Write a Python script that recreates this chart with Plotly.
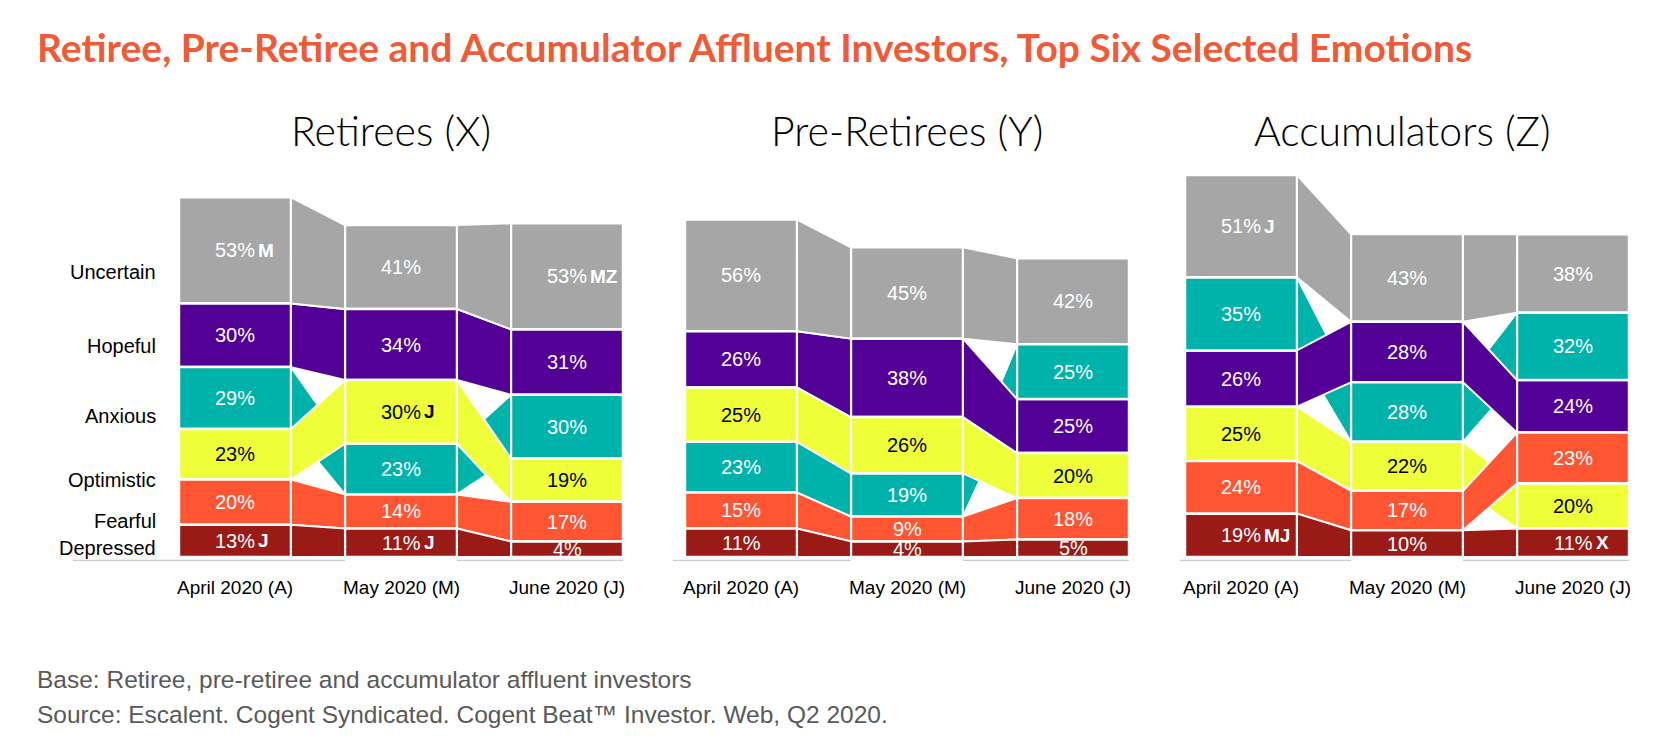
import plotly.graph_objects as go

EMOTIONS = ["Uncertain", "Hopeful", "Anxious", "Optimistic", "Fearful", "Depressed"]
MONTHS = ["April 2020 (A)", "May 2020 (M)", "June 2020 (J)"]

# % selecting each emotion, [April, May, June]
RET_UNCERTAIN = [53, 41, 53]
RET_HOPEFUL = [30, 34, 31]
RET_ANXIOUS = [29, 23, 30]
RET_OPTIMISTIC = [23, 30, 19]
RET_FEARFUL = [20, 14, 17]
RET_DEPRESSED = [13, 11, 4]

PRE_UNCERTAIN = [56, 45, 42]
PRE_HOPEFUL = [26, 38, 24.7]
PRE_ANXIOUS = [23, 19, 25.3]
PRE_OPTIMISTIC = [25, 26, 20]
PRE_FEARFUL = [15, 9, 18]
PRE_DEPRESSED = [11, 4, 5]

ACC_UNCERTAIN = [51, 43, 38]
ACC_HOPEFUL = [26, 28.3, 24]
ACC_ANXIOUS = [35, 27.8, 32]
ACC_OPTIMISTIC = [25, 22, 20]
ACC_FEARFUL = [24, 17, 23]
ACC_DEPRESSED = [19, 10, 11]

# significance letters shown next to the value
RET_SIG = {"Uncertain": ["M", "", "MZ"], "Optimistic": ["", "J", ""], "Depressed": ["J", "J", ""]}
PRE_SIG = {}
ACC_SIG = {"Uncertain": ["J", "", ""], "Depressed": ["MJ", "", "X"]}

COLORS = {
    "Uncertain": "#A6A6A6",
    "Hopeful": "#520096",
    "Anxious": "#00B3AA",
    "Optimistic": "#EEFF3A",
    "Fearful": "#FF5533",
    "Depressed": "#9A1B16",
}
TEXT_COLORS = {e: ("black" if e == "Optimistic" else "white") for e in EMOTIONS}
RIBBON_ORDER = ["Anxious", "Optimistic", "Hopeful", "Fearful", "Uncertain", "Depressed"]

retirees = dict(zip(EMOTIONS, [RET_UNCERTAIN, RET_HOPEFUL, RET_ANXIOUS, RET_OPTIMISTIC, RET_FEARFUL, RET_DEPRESSED]))
pre_retirees = dict(zip(EMOTIONS, [PRE_UNCERTAIN, PRE_HOPEFUL, PRE_ANXIOUS, PRE_OPTIMISTIC, PRE_FEARFUL, PRE_DEPRESSED]))
accumulators = dict(zip(EMOTIONS, [ACC_UNCERTAIN, ACC_HOPEFUL, ACC_ANXIOUS, ACC_OPTIMISTIC, ACC_FEARFUL, ACC_DEPRESSED]))

# page geometry: the html body has an 8px margin
OFF = 8
FIG_W, FIG_H = 1671 - 2 * OFF, 750 - 2 * OFF


def px_x(px):
    return (px - OFF) / FIG_W


def px_y(py):
    return 1 - (py - OFF) / FIG_H


PITCH = 166          # px between month columns
BAR_W = 0.675        # in column units
SEG_PAD = 4.4        # extra height given to every segment (as in the original)
PX_PER_UNIT = 1.85
Y_MIN, Y_MAX = -2.2, 215
PLOT_BOTTOM = 561
PLOT_TOP = PLOT_BOTTOM - (Y_MAX - Y_MIN) * PX_PER_UNIT
ARIAL = "Arial, Liberation Sans, sans-serif"

panels = [
    dict(title="Retirees (X)", values=retirees, sig=RET_SIG, c0=235, left=73, tshift=-10),
    dict(title="Pre-Retirees (Y)", values=pre_retirees, sig=PRE_SIG, c0=741, left=673, tshift=0),
    dict(title="Accumulators (Z)", values=accumulators, sig=ACC_SIG, c0=1241, left=1180, tshift=-5),
]

fig = go.Figure()
shapes, annotations = [], []
x_right = 2 + BAR_W / 2 + 0.03
y_dom = [px_y(PLOT_BOTTOM), px_y(PLOT_TOP)]

for k, p in enumerate(panels):
    sfx = "" if k == 0 else str(k + 1)
    xa, ya = "x" + sfx, "y" + sfx
    x_left = (p["left"] - p["c0"]) / PITCH
    fig.update_layout(**{
        "xaxis" + sfx: dict(domain=[px_x(p["left"]), px_x(p["c0"] + x_right * PITCH)],
                            range=[x_left, x_right], visible=False, fixedrange=True),
        "yaxis" + sfx: dict(domain=y_dom, range=[Y_MIN, Y_MAX], visible=False, fixedrange=True),
    })
    vals = p["values"]
    hgt = {e: [v + SEG_PAD for v in vals[e]] for e in EMOTIONS}

    # stack each month with the smallest share at the bottom
    base = {e: [0, 0, 0] for e in EMOTIONS}
    for i in range(3):
        acc = 0
        for e in sorted(EMOTIONS, key=lambda e: vals[e][i]):
            base[e][i] = acc
            acc += hgt[e][i]

    # ribbons between months
    for e in RIBBON_ORDER:
        for i in range(2):
            xl, xr = i + BAR_W / 2, i + 1 - BAR_W / 2
            b0, b1 = base[e][i], base[e][i + 1]
            t0, t1 = b0 + hgt[e][i], b1 + hgt[e][i + 1]
            fig.add_trace(go.Scatter(
                x=[xl, xr, xr, xl, xl], y=[b0, b1, t1, t0, b0], mode="lines",
                fill="toself", fillcolor=COLORS[e], line=dict(color="white", width=2),
                hoverinfo="skip", showlegend=False, xaxis=xa, yaxis=ya))

    for e in EMOTIONS:
        fig.add_trace(go.Bar(
            x=[0, 1, 2], y=hgt[e], base=base[e], width=BAR_W,
            marker=dict(color=COLORS[e], line=dict(color="white", width=2.5)),
            hoverinfo="skip", showlegend=False, xaxis=xa, yaxis=ya))
        for i in range(3):
            yc = base[e][i] + hgt[e][i] / 2
            annotations.append(dict(
                x=i, y=yc, xref=xa, yref=ya, text=f"{round(vals[e][i])}%", showarrow=False,
                yanchor="middle", font=dict(size=20, color=TEXT_COLORS[e], family=ARIAL)))
            letter = p["sig"].get(e, ["", "", ""])[i]
            if letter:
                annotations.append(dict(
                    x=i, y=yc, xref=xa, yref=ya, text=f"<b>{letter}</b>", showarrow=False,
                    xanchor="left", yanchor="middle", xshift=21,
                    font=dict(size=19, color=TEXT_COLORS[e], family=ARIAL)))

    # month labels
    for i, m in enumerate(MONTHS):
        annotations.append(dict(x=i, y=px_y(587), xref=xa, yref="paper", text=m, showarrow=False,
                                yanchor="middle", font=dict(size=19, color="black", family=ARIAL)))

    # baseline (not drawn under the middle column)
    segs = [(x_left, BAR_W / 2), (BAR_W / 2, 1 - BAR_W / 2), (1 + BAR_W / 2, 2 + BAR_W / 2)]
    for s0, s1 in segs:
        shapes.append(dict(type="line", xref=xa, yref=ya, x0=s0, x1=s1, y0=Y_MIN + 0.3, y1=Y_MIN + 0.3,
                           line=dict(color="#C8C8C8", width=1.5)))

    annotations.append(dict(x=1, y=px_y(131), xref=xa, yref="paper", text=p["title"], showarrow=False,
                            yanchor="middle", xshift=p["tshift"],
                            font=dict(size=41, color="black", family="Lato", weight=300)))

# row labels for the first panel
ROW_LABEL_PX = [272, 346, 416, 480, 521, 548]
for e, ypx in zip(EMOTIONS, ROW_LABEL_PX):
    annotations.append(dict(x=px_x(158), y=px_y(ypx), xref="paper", yref="paper", text=e,
                            showarrow=False, xanchor="right", yanchor="middle",
                            font=dict(size=20, color="black", family=ARIAL)))

annotations.append(dict(
    x=px_x(35), y=px_y(47), xref="paper", yref="paper", xanchor="left", yanchor="middle",
    text="<b>Retiree, Pre-Retiree and Accumulator Affluent Investors, Top Six Selected Emotions</b>",
    showarrow=False, font=dict(size=39, color="#EF5A37", family="Lato")))
annotations.append(dict(
    x=px_x(35), y=px_y(679), xref="paper", yref="paper", xanchor="left", yanchor="middle",
    text="Base: Retiree, pre-retiree and accumulator affluent investors",
    showarrow=False, font=dict(size=24.5, color="#595959", family=ARIAL)))
annotations.append(dict(
    x=px_x(35), y=px_y(714), xref="paper", yref="paper", xanchor="left", yanchor="middle",
    text="Source: Escalent. Cogent Syndicated. Cogent Beat™ Investor. Web, Q2 2020.",
    showarrow=False, font=dict(size=24.5, color="#595959", family=ARIAL)))

fig.update_layout(
    width=FIG_W, height=FIG_H, autosize=False,
    margin=dict(l=0, r=0, t=0, b=0),
    paper_bgcolor="white", plot_bgcolor="white",
    barmode="overlay", showlegend=False,
    shapes=shapes, annotations=annotations,
)

fig.write_html("out.html", config={"displayModeBar": False})
